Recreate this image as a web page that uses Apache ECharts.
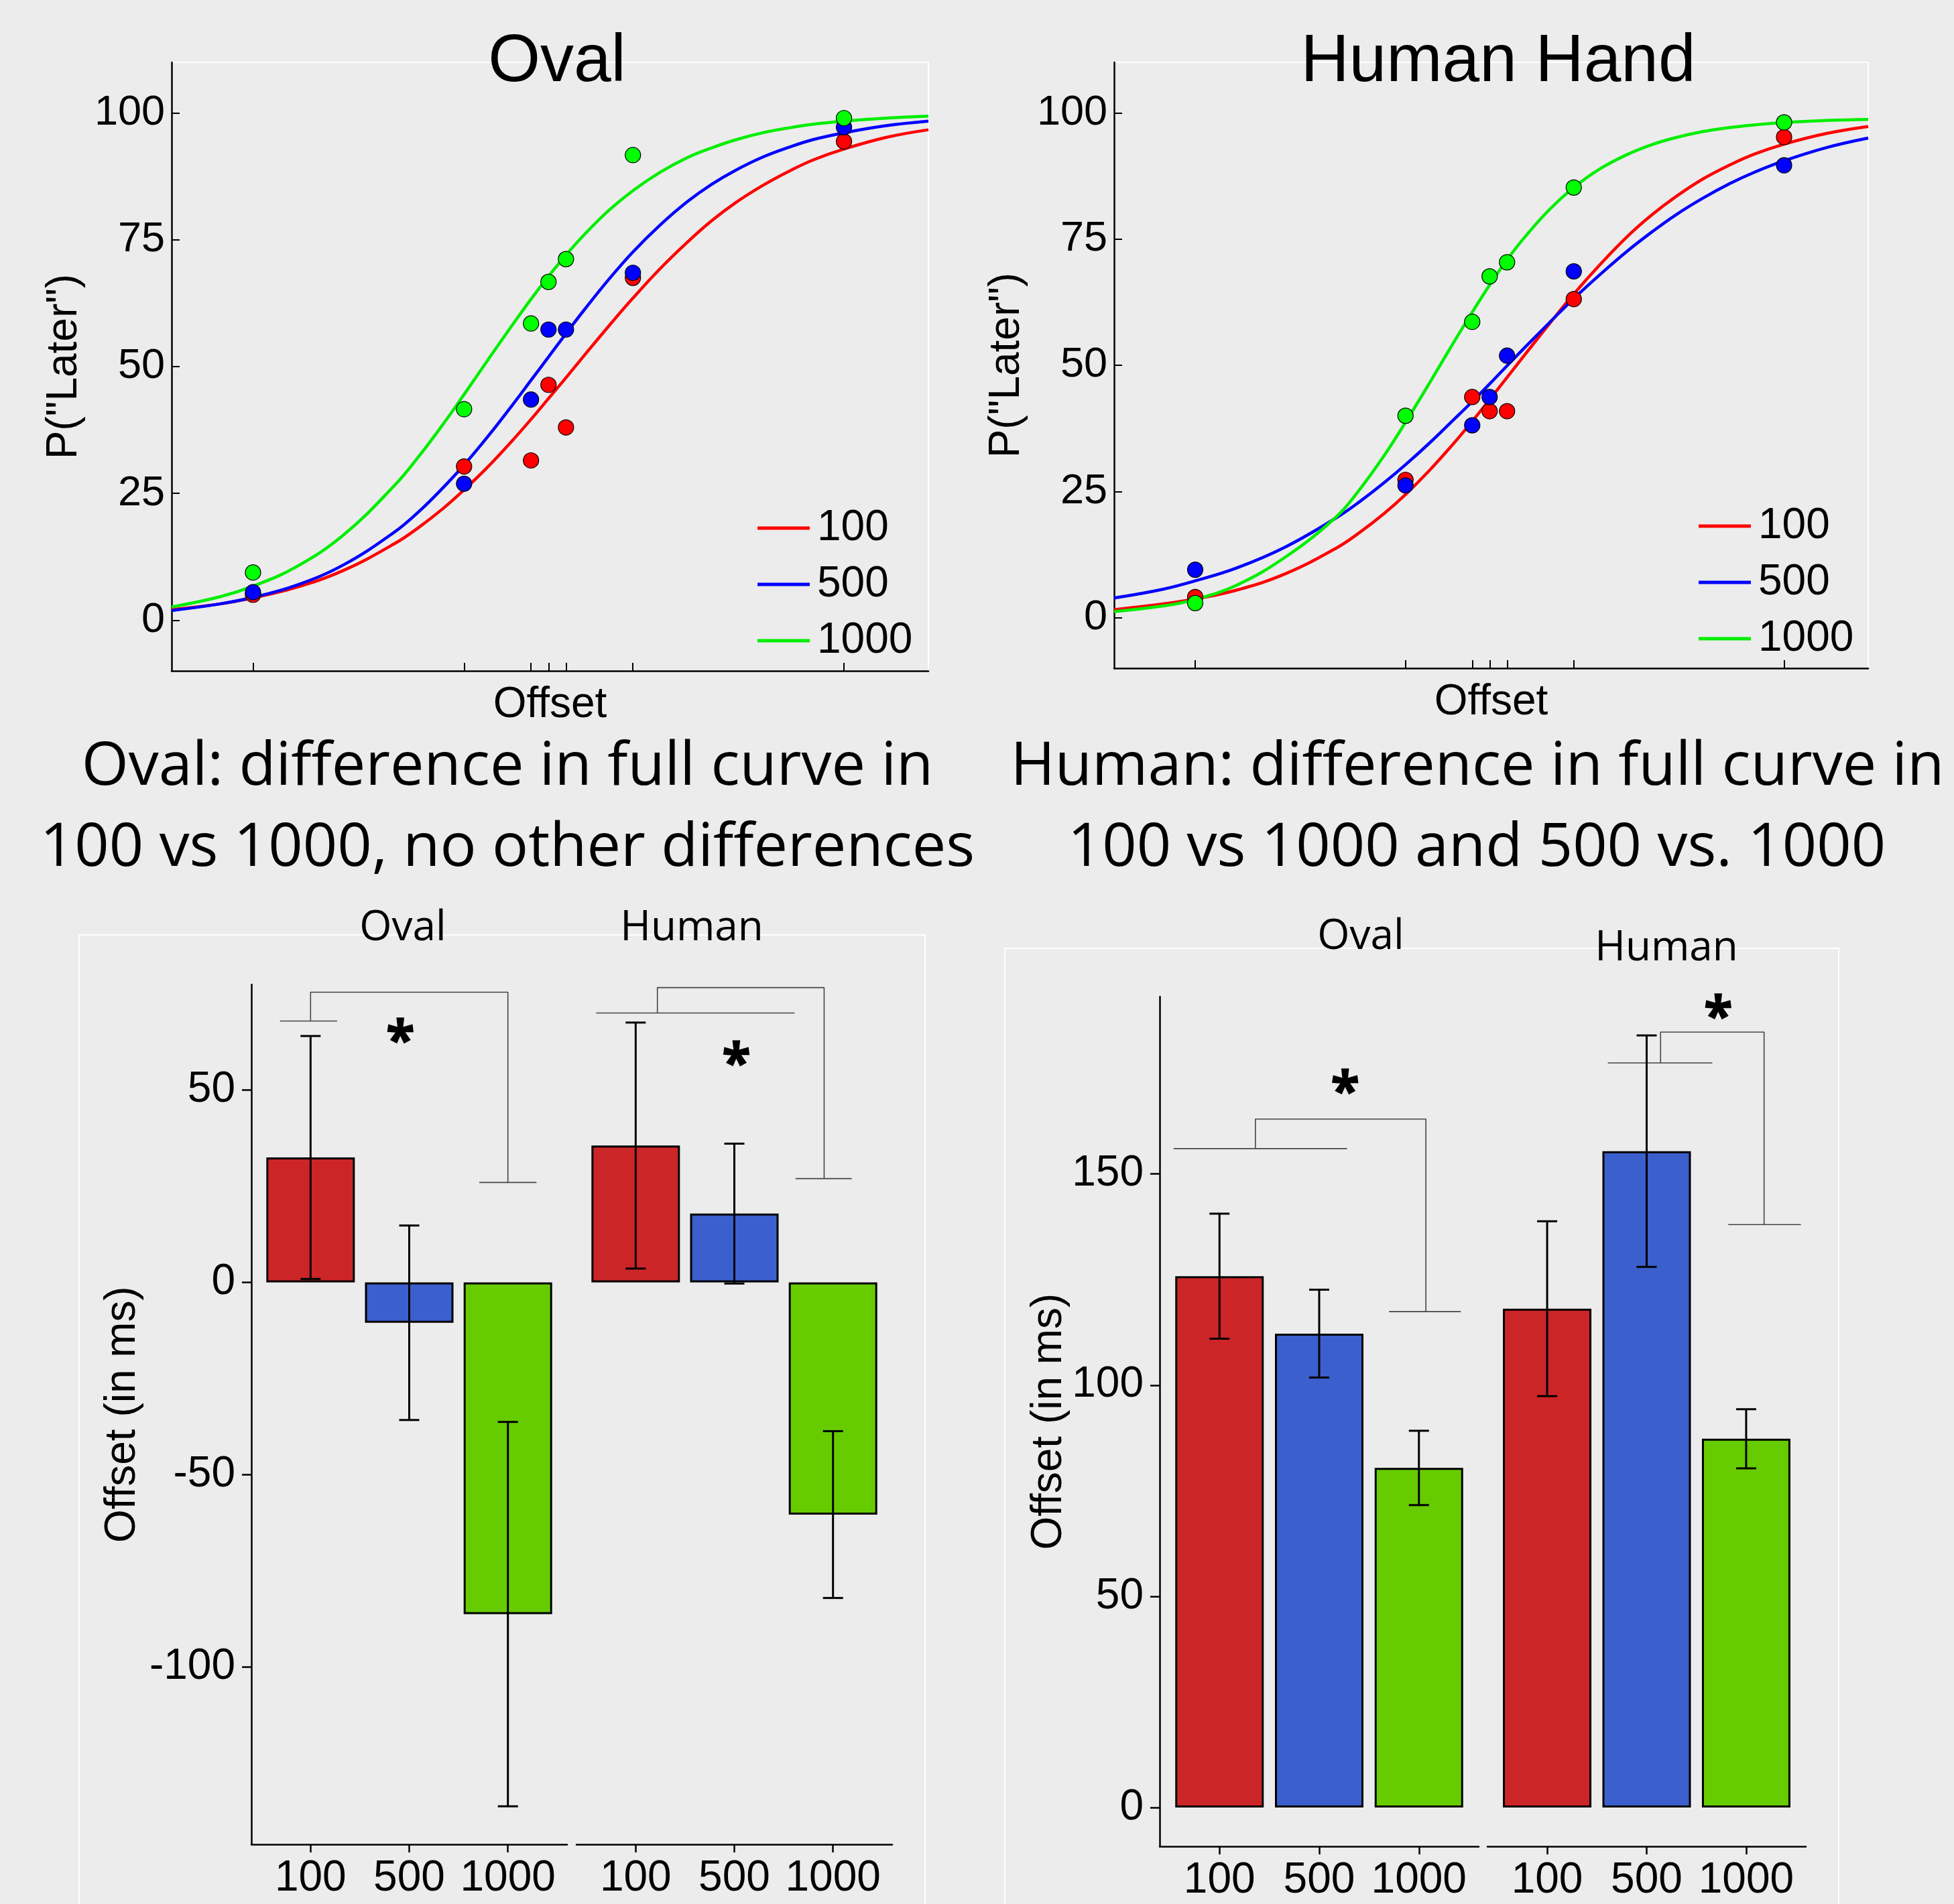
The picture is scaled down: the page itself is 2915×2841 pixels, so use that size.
<!DOCTYPE html>
<html><head><meta charset="utf-8">
<script src="https://cdn.jsdelivr.net/npm/echarts@6/dist/echarts.min.js"></script>
<style>html,body{margin:0;padding:0;background:#ececec}#c{width:2915px;height:2841px}</style>
</head><body><div id="c"></div>
<script>
// ---------------- DATA ----------------
const delays = ['100', '500', '1000'];

// psychometric panels: stimulus offsets (x positions of tick marks / points)
const offsets = [-490, -140, -29, 0, 29, 140, 490];
const pTicks = [0, 25, 50, 75, 100];

// observed proportions (Oval)
const ovalPts100  = [5.0, 30.3, 31.5, 46.4, 38.0, 67.5, 94.4];
const ovalPts500  = [5.5, 26.9, 43.5, 57.3, 57.3, 68.5, 97.2];
const ovalPts1000 = [9.4, 41.6, 58.5, 66.7, 71.2, 91.7, 99.0];
// observed proportions (Human Hand)
const humanPts100  = [4.1, 27.3, 43.7, 40.9, 40.9, 63.1, 95.2];
const humanPts500  = [9.5, 26.2, 38.1, 43.7, 51.9, 68.6, 89.6];
const humanPts1000 = [2.9, 40.0, 58.6, 67.6, 70.4, 85.2, 98.1];

// fitted curves at these offsets
const curveX = [-625, -545, -490, -420, -340, -255, -215, -175, -140, -100, -60, -29, 0, 29, 60, 100, 140, 185, 230, 270, 310, 355, 400, 440, 490, 560, 630];
const ovalCurve100  = [2.1, 3.2, 4.4, 6.4, 9.8, 15.1, 18.3, 22.0, 25.7, 30.3, 35.4, 39.6, 43.7, 47.8, 52.3, 58.0, 63.5, 69.3, 74.5, 78.7, 82.3, 85.7, 88.6, 90.8, 92.9, 95.2, 96.7];
const ovalCurve500  = [1.9, 3.2, 4.5, 6.8, 10.9, 17.4, 21.4, 26.1, 30.6, 36.3, 42.4, 47.3, 51.9, 56.5, 61.3, 67.2, 72.6, 77.9, 82.5, 85.9, 88.7, 91.3, 93.3, 94.8, 96.1, 97.5, 98.4];
const ovalCurve1000 = [2.6, 4.6, 6.7, 10.4, 16.8, 26.6, 32.3, 38.6, 44.5, 51.4, 58.2, 63.3, 67.8, 72.0, 76.1, 80.8, 84.7, 88.3, 91.2, 93.1, 94.7, 96.1, 97.1, 97.8, 98.4, 99.0, 99.4];
const humanCurve100  = [1.6, 2.7, 3.7, 5.5, 8.7, 13.8, 17.0, 20.7, 24.4, 29.2, 34.5, 38.9, 43.2, 47.6, 52.3, 58.3, 64.1, 70.1, 75.6, 79.8, 83.4, 86.9, 89.7, 91.8, 93.8, 95.9, 97.3];
const humanCurve500  = [3.9, 5.6, 7.3, 9.9, 14.0, 19.8, 23.1, 26.8, 30.3, 34.6, 39.2, 42.8, 46.3, 49.9, 53.7, 58.5, 63.2, 68.1, 72.7, 76.4, 79.8, 83.1, 86.0, 88.2, 90.5, 93.1, 95.0];
const humanCurve1000 = [1.2, 2.3, 3.6, 6.5, 12.0, 20.0, 25.6, 32.2, 38.7, 46.5, 54.5, 60.5, 65.9, 70.9, 75.6, 80.9, 85.2, 89.0, 91.8, 93.7, 95.1, 96.3, 97.1, 97.6, 98.1, 98.5, 98.7];

// bar panel A (left): mean offset and SE (ms)
const aOvalMean = [32.5, -10.5, -86.3];
const aOvalSE   = [31.6, 25.3, 50.0];
const aHumanMean = [35.6, 17.9, -60.4];
const aHumanSE   = [32.0, 18.2, 21.7];
const aTicks = [-100, -50, 0, 50];
// bar panel B (right)
const bOvalMean = [125.8, 112.2, 80.4];
const bOvalSE   = [14.8, 10.4, 8.8];
const bHumanMean = [118.1, 155.4, 87.3];
const bHumanSE   = [20.7, 27.4, 7.0];
const bTicks = [0, 50, 100, 150];

// significance brackets (x in bar-slot units 1..3, y in ms)
const aOvalBracket  = {left: [0.69, 1.27], yLeft: 68,  xJoin: 1.0,  yTop: 75.5, xRight: 3.0,  right: [2.71, 3.29], yRight: 26, star: [1.91, 65.6]};
const aHumanBracket = {left: [0.60, 2.61], yLeft: 70.1, xJoin: 1.22, yTop: 76.7, xRight: 2.91, right: [2.62, 3.19], yRight: 27, star: [2.02, 59.8]};
const bOvalBracket  = {left: [0.54, 2.28], yLeft: 156, xJoin: 1.36, yTop: 163,  xRight: 3.07, right: [2.70, 3.42], yRight: 117.4, star: [2.26, 172.1]};
const bHumanBracket = {left: [1.61, 2.66], yLeft: 176.3, xJoin: 2.14, yTop: 183.6, xRight: 3.18, right: [2.82, 3.55], yRight: 138, star: [2.72, 189.8]};

// ---------------- STYLE ----------------
const lineColors = ['#ff0000', '#0000ff', '#00ee00'];
const ptColors = ['#ff0000', '#0000ff', '#00ff00'];
const barColors = ['#cc2528', '#3b5fcd', '#66cc00'];
const fH = '"Liberation Sans", Arial, sans-serif';
const fC = '"Open Sans", sans-serif';

const chart = echarts.init(document.getElementById('c'), null, {renderer: 'canvas'});

const grids = [
  {left: 256, top: 93, width: 1129, height: 908, show: true, borderColor: '#ffffff', borderWidth: 2, backgroundColor: 'transparent'},
  {left: 1662, top: 93, width: 1125, height: 904, show: true, borderColor: '#ffffff', borderWidth: 2, backgroundColor: 'transparent'},
  {left: 375, top: 1469, width: 471, height: 1283},
  {left: 860, top: 1469, width: 471, height: 1283},
  {left: 1730, top: 1487, width: 476, height: 1268},
  {left: 2219, top: 1487, width: 475, height: 1268}
].map(g => Object.assign({outerBoundsMode: 'none', containLabel: false}, g));

const axLine = {show: true, onZero: false, lineStyle: {color: '#000', width: 2.5}};
const nameStyle = {fontFamily: fH, fontSize: 64, color: '#000'};
const labStyle = {fontFamily: fH, fontSize: 63, color: '#000'};

const xAxes = [], yAxes = [];
[0, 1].forEach(gi => {
  xAxes.push({type: 'value', gridIndex: gi, min: -625, max: 630, name: 'Offset', nameLocation: 'middle', nameGap: 19,
    nameMoveOverlap: false, nameTextStyle: nameStyle, axisLine: axLine,
    axisTick: {show: true, inside: true, length: 12, customValues: offsets, lineStyle: {color: '#000', width: 2}},
    axisLabel: {show: false}, splitLine: {show: false}});
  yAxes.push({type: 'value', gridIndex: gi, min: -10, max: 110, name: 'P("Later")', nameLocation: 'middle', nameRotate: 90, nameGap: 128,
    nameMoveOverlap: false, nameTextStyle: nameStyle, axisLine: axLine,
    axisTick: {show: true, inside: true, length: 12, customValues: pTicks, lineStyle: {color: '#000', width: 2}},
    axisLabel: Object.assign({customValues: pTicks, margin: 10}, labStyle), splitLine: {show: false}});
});
function barX(gi) {
  return {type: 'value', gridIndex: gi, min: 0.4, max: 3.6, axisLine: axLine,
    axisTick: {show: true, inside: false, length: 12, customValues: [1, 2, 3], lineStyle: {color: '#000', width: 2.5}},
    axisLabel: Object.assign({customValues: [1, 2, 3], margin: 19, formatter: v => delays[Math.round(v) - 1]}, labStyle, {fontSize: 64}),
    splitLine: {show: false}};
}
function barY(gi, min, max, ticks, show, gap) {
  return {type: 'value', gridIndex: gi, min: min, max: max, show: show,
    name: show ? 'Offset (in ms)' : '', nameLocation: 'middle', nameRotate: 90, nameGap: gap, nameMoveOverlap: false, nameTextStyle: nameStyle,
    axisLine: axLine,
    axisTick: {show: true, inside: false, length: 14, customValues: ticks, lineStyle: {color: '#000', width: 2.5}},
    axisLabel: Object.assign({customValues: ticks, margin: 24}, labStyle, {fontSize: 64}), splitLine: {show: false}};
}
xAxes.push(barX(2), barX(3), barX(4), barX(5));
yAxes.push(barY(2, -146.2, 77.5, aTicks, true, 160), barY(3, -146.2, 77.5, aTicks, false, 0),
           barY(4, -9.2, 192, bTicks, true, 133), barY(5, -9.2, 192, bTicks, false, 0));

const series = [];
function addPsycho(ai, curves, pts) {
  curves.forEach((c, k) => series.push({type: 'line', name: delays[k], xAxisIndex: ai, yAxisIndex: ai, smooth: 0.4,
    showSymbol: false, silent: true, z: 2, data: curveX.map((x, i) => [x, c[i]]),
    itemStyle: {color: lineColors[k]}, lineStyle: {color: lineColors[k], width: 4.5}}));
  pts.forEach((p, k) => series.push({type: 'scatter', name: 'pts' + delays[k], xAxisIndex: ai, yAxisIndex: ai, silent: true, z: 3 + k,
    symbolSize: 23, data: offsets.map((x, i) => [x, p[i]]),
    itemStyle: {color: ptColors[k], borderColor: '#000', borderWidth: 1.2, opacity: 1}}));
}
addPsycho(0, [ovalCurve100, ovalCurve500, ovalCurve1000], [ovalPts100, ovalPts500, ovalPts1000]);
addPsycho(1, [humanCurve100, humanCurve500, humanCurve1000], [humanPts100, humanPts500, humanPts1000]);

function addBars(ai, means, ses, br) {
  series.push({type: 'bar', xAxisIndex: ai, yAxisIndex: ai, barWidth: 132, silent: true, z: 2,
    data: means.map((m, i) => ({value: [i + 1, m], itemStyle: {color: barColors[i]}})),
    itemStyle: {borderColor: '#000', borderWidth: 3, borderRadius: 0}});
  series.push({type: 'custom', xAxisIndex: ai, yAxisIndex: ai, silent: true, z: 5,
    data: means.map((m, i) => [i + 1, m, ses[i]]),
    renderItem: function (params, api) {
      const x = api.value(0), m = api.value(1), e = api.value(2);
      const t = api.coord([x, m + e]), b = api.coord([x, m - e]);
      const hw = 15, st = {stroke: '#000', lineWidth: 3};
      return {type: 'group', children: [
        {type: 'line', shape: {x1: t[0], y1: t[1], x2: b[0], y2: b[1]}, style: st},
        {type: 'line', shape: {x1: t[0] - hw, y1: t[1], x2: t[0] + hw, y2: t[1]}, style: st},
        {type: 'line', shape: {x1: b[0] - hw, y1: b[1], x2: b[0] + hw, y2: b[1]}, style: st}]};
    }});
  series.push({type: 'line', xAxisIndex: ai, yAxisIndex: ai, silent: true, z: 4, symbol: 'none', smooth: false,
    data: [[br.left[0], br.yLeft], [br.left[1], br.yLeft], [br.xJoin, br.yLeft], [br.xJoin, br.yTop],
           [br.xRight, br.yTop], [br.xRight, br.yRight], [br.right[0], br.yRight], [br.right[1], br.yRight]],
    lineStyle: {color: '#444', width: 1.6}});
  series.push({type: 'custom', xAxisIndex: ai, yAxisIndex: ai, silent: true, z: 6, data: [br.star],
    renderItem: function (params, api) {
      const p = api.coord([api.value(0), api.value(1)]);
      return {type: 'text', x: p[0], y: p[1] + 20,
        style: {text: '*', fill: '#000', stroke: '#000', lineWidth: 1.5, font: 'bold 78px "Open Sans", sans-serif', align: 'center', verticalAlign: 'middle'}};
    }});
}
addBars(2, aOvalMean, aOvalSE, aOvalBracket);
addBars(3, aHumanMean, aHumanSE, aHumanBracket);
addBars(4, bOvalMean, bOvalSE, bOvalBracket);
addBars(5, bHumanMean, bHumanSE, bHumanBracket);

function txt(text, x, y, font, size) {
  return {type: 'text', x: x, y: y, silent: true, z: 10,
    style: {text: text, fill: '#000', font: size + 'px ' + font, align: 'center', verticalAlign: 'middle'}};
}
const legendBase = {orient: 'vertical', itemWidth: 78, itemHeight: 5, itemGap: 20, icon: 'rect', data: delays,
  selectedMode: false, textStyle: {fontFamily: fH, fontSize: 64, color: '#000', lineHeight: 62, padding: [0, 0, 0, 6]}};

chart.setOption({
  animation: false,
  backgroundColor: '#ececec',
  grid: grids,
  xAxis: xAxes,
  yAxis: yAxes,
  legend: [Object.assign({left: 1125, top: 751}, legendBase), Object.assign({left: 2529, top: 748}, legendBase)],
  series: series,
  graphic: [
    {type: 'rect', shape: {x: 118, y: 1395, width: 1262, height: 1500}, style: {fill: 'none', stroke: '#ffffff', lineWidth: 2}, silent: true, z: 0},
    {type: 'rect', shape: {x: 1499, y: 1415, width: 1244, height: 1500}, style: {fill: 'none', stroke: '#ffffff', lineWidth: 2}, silent: true, z: 0},
    txt('Oval', 831, 93, fH, 100),
    txt('Human Hand', 2235, 93, fH, 100),
    txt('Oval: difference in full curve in', 757, 1145, fC, 90),
    txt('100 vs 1000, no other differences', 757, 1266, fC, 90),
    txt('Human: difference in full curve in', 2204, 1145, fC, 90),
    txt('100 vs 1000 and 500 vs. 1000', 2203, 1266, fC, 90),
    txt('Oval', 601, 1385, fC, 62),
    txt('Human', 1032, 1385, fC, 62),
    txt('Oval', 2030, 1398, fC, 62),
    txt('Human', 2486, 1415, fC, 62)
  ]
});
</script>
</body></html>
